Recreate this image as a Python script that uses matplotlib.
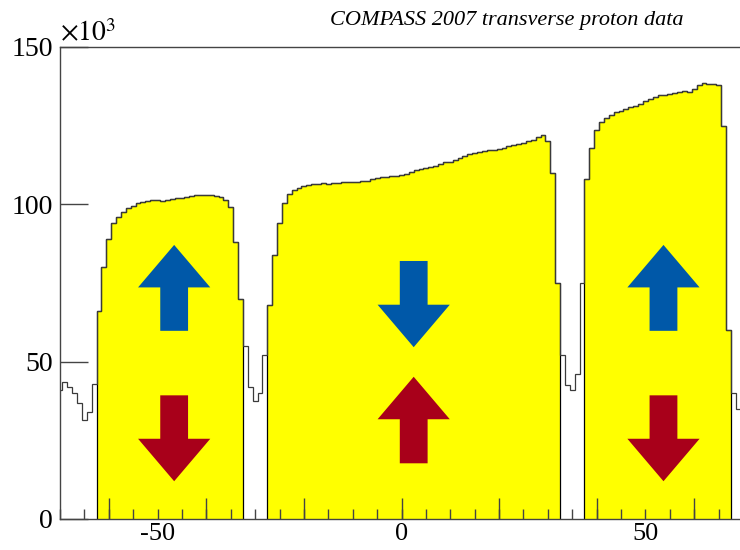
import matplotlib
matplotlib.use('Agg')
import matplotlib.pyplot as plt
import numpy as np
from matplotlib.patches import FancyArrow
from matplotlib.ticker import MultipleLocator, FixedLocator, FuncFormatter, NullFormatter

plt.rcParams['font.family'] = 'Liberation Serif'
plt.rcParams['mathtext.fontset'] = 'stix'

# vertex z position (bin centres, 1 unit wide), counts in units of 10^3
z_centres = np.arange(-70, 71)
counts = [
    # -70 .. -63  (upstream of cell 1)
    41.0, 43.5, 42.0, 40.0, 37.0, 31.5, 34.0, 43.0,
    # -62 .. -33  cell 1
    66.0, 80.0, 89.0, 94.0, 96.0, 97.5, 98.8, 99.5, 100.3, 100.8,
    101.2, 101.4, 101.3, 101.2, 101.4, 101.6, 101.9, 102.1, 102.4, 102.7,
    102.9, 103.0, 103.1, 102.9, 102.8, 102.4, 101.5, 99.0, 88.0, 70.0,
    # -32 .. -28  gap
    55.0, 42.0, 37.5, 40.0, 52.0,
    # -27 .. 32  cell 2
    68.0, 84.0, 94.0, 100.5, 103.3, 104.5, 105.3, 105.8, 106.2, 106.5,
    106.6, 106.7, 106.6, 106.7, 106.8, 107.0, 107.1, 107.2, 107.2, 107.4,
    107.5, 107.9, 108.3, 108.6, 108.8, 109.0, 109.1, 109.3, 109.7, 110.3,
    110.8, 111.2, 111.6, 111.9, 112.3, 112.8, 113.3, 113.6, 114.2, 114.8,
    115.4, 115.9, 116.2, 116.5, 116.9, 117.2, 117.3, 117.6, 118.0, 118.5,
    118.8, 119.2, 119.6, 120.0, 120.4, 121.3, 122.0, 120.0, 110.0, 75.0,
    # 33 .. 37  gap
    52.0, 42.5, 41.0, 46.0, 75.0,
    # 38 .. 67  cell 3
    108.0, 118.0, 123.5, 126.3, 127.5, 128.4, 129.2, 129.8, 130.3, 130.8,
    131.3, 132.0, 132.7, 133.5, 134.2, 134.6, 134.9, 135.2, 135.5, 135.7,
    135.9, 135.8, 136.5, 137.8, 138.6, 138.4, 138.2, 137.8, 125.0, 60.0,
    # 68 .. 70  downstream
    40.0, 35.0, 36.0,
]
counts = np.array(counts)
edges = np.append(z_centres - 0.5, z_centres[-1] + 0.5)

# target cells (first and last bin centre)
cells = [(-62, -33), (-27, 32), (38, 67)]

# spin arrows: x centre, tail, tip (10^3 units), colour
arrow_x = [-46.6, -46.6, 2.5, 2.5, 53.7, 53.7]
arrow_tail = [59.8, 39.3, 82.0, 17.7, 59.8, 39.3]
arrow_tip = [87.1, 12.0, 54.6, 45.2, 87.1, 12.0]
arrow_col = ['#0058a8', '#a8001a', '#0058a8', '#a8001a', '#0058a8', '#a8001a']

fig = plt.figure(figsize=(7.4, 5.5), dpi=100)
ax = fig.add_axes([60 / 740, 31 / 550, 683 / 740, 472 / 550])

for c0, c1 in cells:
    i0 = c0 + 70
    i1 = c1 + 70
    ax.stairs(counts[i0:i1 + 1], edges[i0:i1 + 2], baseline=0, fill=True,
              facecolor='#ffff00', edgecolor='black', linewidth=0.9, zorder=1)

ax.stairs(counts, edges, baseline=None, color='#3a3a3a', linewidth=0.9, zorder=2)

for x, t0, t1, col in zip(arrow_x, arrow_tail, arrow_tip, arrow_col):
    ax.add_patch(FancyArrow(x, t0, 0, t1 - t0, width=5.7, head_width=14.8,
                            head_length=13.5, length_includes_head=True,
                            facecolor=col, edgecolor='none', zorder=3))

ax.set_xlim(-70, 70)
ax.set_ylim(0, 150)

ax.xaxis.set_major_locator(MultipleLocator(20))
ax.xaxis.set_major_formatter(NullFormatter())
ax.xaxis.set_minor_locator(MultipleLocator(5))
ax.xaxis.remove_overlapping_locs = False
ax.xaxis.set_minor_formatter(FuncFormatter(
    lambda v, p: f'{int(round(v))}' if int(round(v)) in (-50, 0, 50) else ''))
ax.tick_params(axis='x', which='major', direction='in', length=15, width=1,
               color='#444444', top=False)
ax.tick_params(axis='x', which='minor', direction='in', length=7.5, width=1,
               color='#444444', labelsize=19, pad=3, top=False)

ax.yaxis.set_major_locator(FixedLocator([0, 50, 100, 150]))
ax.yaxis.set_major_formatter(FuncFormatter(lambda v, p: f'{int(v)}'))
ax.tick_params(axis='y', which='major', direction='in', length=20, width=1,
               color='#444444', labelsize=20, pad=5, right=False)

for s in ax.spines.values():
    s.set_color('#444444')
    s.set_linewidth(1.0)

ax.text(0.0, 1.0, r'$\times10^{3}$', transform=ax.transAxes, fontsize=20,
        ha='left', va='bottom')
fig.text(507 / 740, 1 - 20 / 550, 'COMPASS 2007 transverse proton data',
         fontsize=16, style='italic', ha='center', va='center')

fig.savefig('out.png', dpi=100)
